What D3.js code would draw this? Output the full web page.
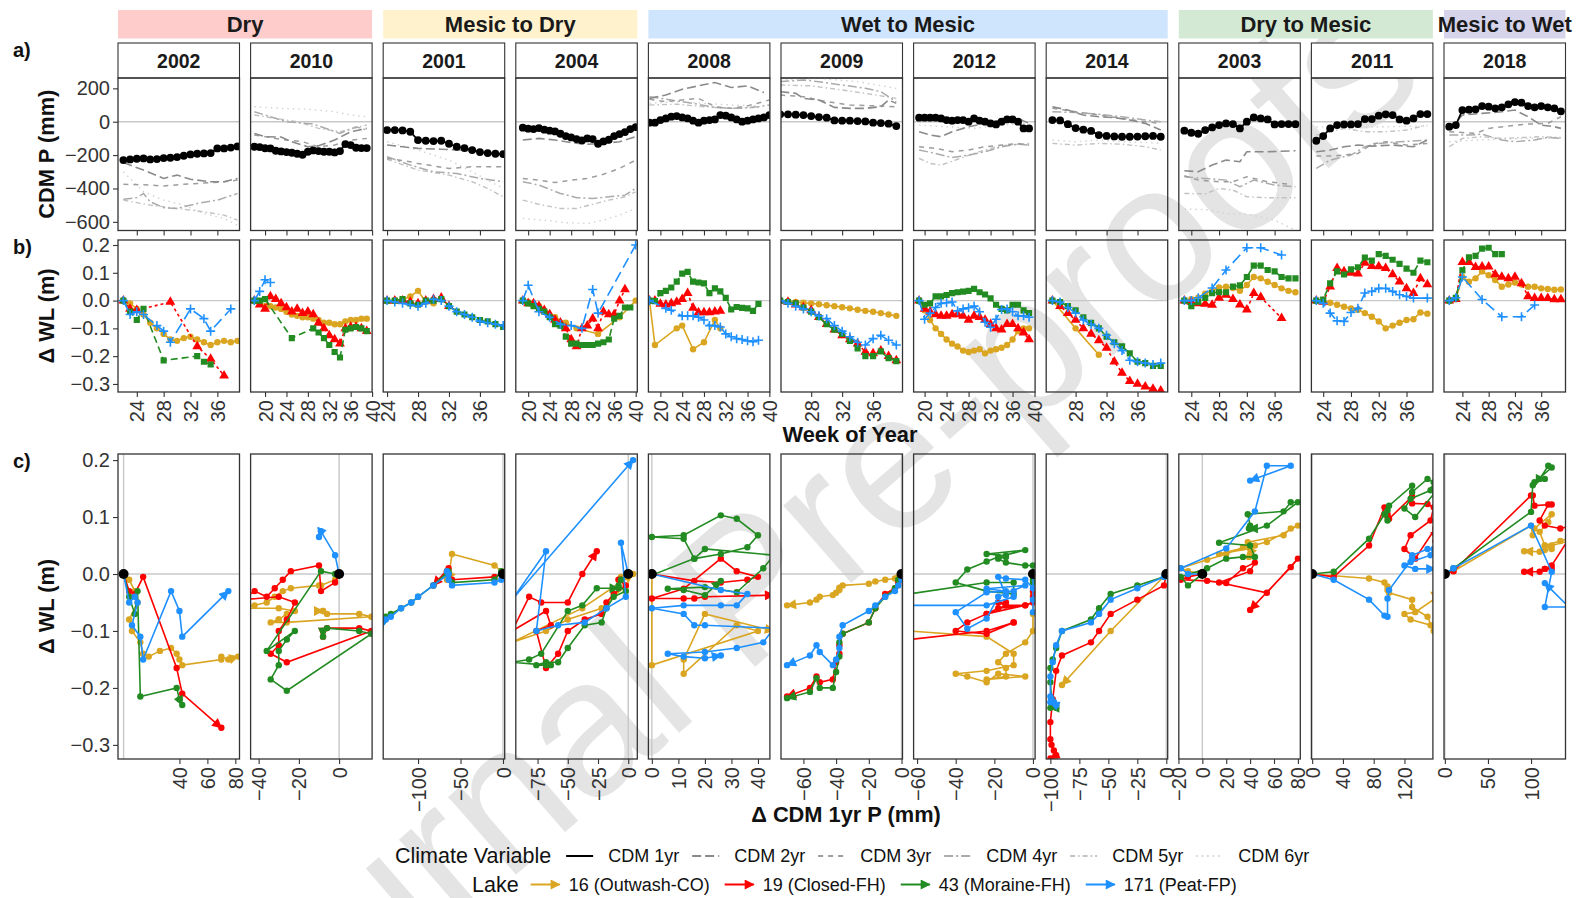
<!DOCTYPE html>
<html>
<head>
<meta charset="utf-8">
<script src="https://cdn.jsdelivr.net/npm/d3@7"></script>
<style>
  body { margin: 0; background: #fff; }
  text { font-family: "Liberation Sans", Arial, sans-serif; }
</style>
</head>
<body>
<svg id="chart" width="1583" height="898"></svg>
<script>
////////////////////////////////////////////////////////////////////
////////////////////////////  Data  ////////////////////////////////
const years = ["2002", "2010", "2001", "2004", "2008", "2009", "2012", "2014", "2003", "2011", "2018"];
const groupLabels = ["Dry", "Mesic to Dry", "Wet to Mesic", "Dry to Mesic", "Mesic to Wet"];
const groupSizes = [2, 2, 4, 2, 1];
const cdmNames = ["CDM 1yr", "CDM 2yr", "CDM 3yr", "CDM 4yr", "CDM 5yr", "CDM 6yr"];
const lakeNames = ["16 (Outwash-CO)", "19 (Closed-FH)", "43 (Moraine-FH)", "171 (Peat-FP)"];

// week axis range and ticks of each column
const weekDomains = [[21.2, 39.3], [17.3, 40], [23.5, 39.2], [17.7, 40.3], [17.8, 40.1], [24.1, 39.8],
  [18, 40.1], [24.2, 39.9], [22.2, 39.7], [22.3, 39.8], [21.2, 39.7]];
const weekTicks = [[24, 28, 32, 36], [20, 24, 28, 32, 36, 40], [24, 28, 32, 36], [20, 24, 28, 32, 36, 40],
  [20, 24, 28, 32, 36, 40], [28, 32, 36], [20, 24, 28, 32, 36, 40], [28, 32, 36], [24, 28, 32, 36],
  [24, 28, 32, 36], [24, 28, 32, 36]];
// delta CDM axis range and ticks of each column (row c)
const dcdmDomains = [[-4, 83], [-44, 16.4], [-141, 2], [-93, 7.5], [-1.3, 44.5], [-73.7, 0.6],
  [-61.8, 1.1], [-103.6, 1.2], [-19.7, 82], [-1, 157], [-1, 140]];
const dcdmTicks = [[40, 60, 80], [-40, -20, 0], [-100, -50, 0], [-75, -50, -25, 0], [0, 10, 20, 30, 40],
  [-60, -40, -20, 0], [-60, -40, -20, 0], [-100, -75, -50, -25, 0], [-20, 0, 20, 40, 60, 80],
  [0, 40, 80, 120], [0, 50, 100]];
const cdmTicks = [200, 0, -200, -400, -600];
const wlTicks = [0.2, 0.1, 0, -0.1, -0.2, -0.3];

// CDM 1yr precipitation (mm): [first week, weekly values]
const cdm1yr = [
  [22, [-230, -226, -222, -220, -226, -224, -218, -216, -212, -204, -196, -192, -190, -188, -160, -160, -155, -148]],
  [18, [-150, -152, -159, -160, -174, -178, -182, -186, -192, -198, -180, -172, -176, -180, -180, -184, -176, -134, -140, -156, -158, -158]],
  [24, [-50, -50, -52, -60, -110, -114, -116, -114, -132, -150, -158, -170, -182, -188, -192, -194]],
  [19, [-36, -42, -44, -38, -48, -54, -58, -72, -86, -94, -104, -112, -100, -104, -132, -118, -108, -86, -74, -62, -44, -32]],
  [18, [-6, -6, 10, 20, 30, 34, 26, 20, 6, -6, 6, 10, 14, 40, 36, 26, 14, 0, 6, 14, 20, 26, 40]],
  [24, [44, 44, 42, 40, 34, 28, 24, 8, 6, 6, 4, 2, -6, -8, -12, -26]],
  [19, [24, 24, 24, 24, 20, 10, 6, 10, 10, 0, 20, 6, 0, -10, -16, 0, 14, 14, 0, -40, -40]],
  [25, [10, 8, -15, -38, -48, -55, -80, -85, -88, -90, -90, -89, -87, -85, -90]],
  [23, [-54, -66, -72, -50, -34, -20, -10, -14, -40, 0, 26, 20, 14, -16, -14, -14, -15]],
  [23, [-114, -86, -40, -20, -16, -16, -14, 16, 16, 36, 44, 40, 14, 6, 20, 46, 46]],
  [22, [-30, -20, 70, 72, 74, 94, 90, 80, 86, 104, 118, 114, 94, 86, 94, 86, 80, 62]]
];

// longer CDM windows (mm): [week, value] pairs
const cdm2yr = [
  [[22, -245], [25, -290], [28, -340], [30, -320], [32, -345], [35, -360], [37, -360], [39, -340]],
  [[18, -70], [20, -90], [23, -92], [25, -120], [28, -150], [30, -144], [33, -110], [36, -60], [39, -40]],
  [[24, -140], [26, -150], [28, -160], [31, -165], [34, -170], [36, -185], [39, -195]],
  [[19, -110], [22, -100], [25, -110], [28, -125], [31, -135], [34, -130], [37, -120], [40, -90]],
  [[18, 140], [21, 160], [24, 195], [27, 215], [30, 235], [33, 205], [36, 215], [39, 175]],
  [[24, 180], [26, 170], [27, 140], [29, 130], [31, 86], [33, 80], [35, 80], [37, 90], [38, 130], [39, 110]],
  [[19, -60], [21, -80], [23, -90], [25, -60], [28, -30], [31, -10], [34, 10], [37, 20], [39, -10]],
  [[25, 90], [27, 70], [29, 40], [31, 30], [33, 25], [35, 10], [37, -10], [39, -50]],
  [[23, -294], [25, -300], [27, -260], [29, -230], [31, -240], [32, -180], [35, -180], [39, -174]],
  [[23, -180], [25, -170], [27, -150], [29, -140], [31, -146], [34, -140], [37, -150], [39, -110]],
  [[22, -50], [24, 40], [27, 50], [30, 60], [32, 70], [34, 30], [36, -20], [38, -30], [39, -40]]
];
const cdm3yr = [
  [[22, -375], [25, -378], [28, -385], [31, -375], [34, -368], [37, -360], [39, -350]],
  [[18, -80], [21, -95], [24, -110], [27, -120], [30, -150], [33, -140], [36, -110], [39, -100]],
  [[24, -220], [27, -240], [28, -250], [32, -280], [35, -270], [39, -270]],
  [[19, -340], [22, -350], [25, -365], [28, -350], [31, -340], [34, -315], [37, -280], [40, -230]],
  [[18, 135], [21, 120], [24, 130], [27, 140], [30, 90], [33, 80], [36, 95], [40, 130]],
  [[24, 160], [27, 150], [30, 120], [33, 100], [36, 95], [39, 90]],
  [[19, -150], [22, -160], [25, -180], [28, -170], [31, -150], [34, -140], [37, -130], [39, -140]],
  [[25, 80], [28, 60], [31, 40], [34, 20], [37, 0], [39, -10]],
  [[23, -324], [25, -350], [28, -360], [30, -360], [32, -330], [35, -360], [38, -374]],
  [[23, -206], [25, -206], [27, -200], [29, -190], [31, -134], [33, -120], [36, -140], [39, -130]],
  [[22, -60], [26, -70], [28, -40], [31, -26], [34, -14], [37, -10], [39, 30]]
];
const cdm4yr = [
  [[22, -465], [24, -455], [25, -430], [26, -480], [28, -515], [30, -520], [33, -490], [36, -470], [39, -430]],
  [[18, 60], [24, 0], [29, -14], [34, -70], [37, -30], [39, -50]],
  [[24, -210], [27, -260], [30, -300], [33, -310], [36, -340], [39, -360]],
  [[19, -360], [22, -380], [26, -430], [29, -455], [32, -460], [35, -450], [38, -440], [40, -400]],
  [[18, 150], [22, 130], [26, 110], [30, 85], [34, 80], [38, 90], [40, 100]],
  [[24, 240], [27, 250], [29, 240], [32, 220], [35, 200], [37, 180], [39, 120]],
  [[19, -170], [22, -190], [25, -215], [28, -200], [31, -180], [34, -150], [37, -135], [39, -140]],
  [[25, 60], [28, 55], [31, 45], [34, 30], [37, 10], [39, 0]],
  [[23, -330], [26, -340], [29, -350], [31, -390], [33, -350], [36, -380], [39, -390]],
  [[23, -280], [25, -230], [28, -200], [30, -150], [32, -130], [35, -120], [39, -110]],
  [[22, -80], [25, -80], [27, -75], [30, -110], [32, -120], [35, -110], [37, -94], [39, -100]]
];
const cdm5yr = [
  [[22, -470], [26, -500], [30, -520], [34, -540], [37, -560], [39, -590]],
  [[18, 40], [22, 20], [26, 0], [30, -40], [34, -60], [39, -20]],
  [[24, -225], [28, -290], [32, -320], [35, -360], [37, -400], [39, -450]],
  [[19, -470], [22, -495], [26, -520], [29, -520], [32, -495], [35, -470], [38, -450], [40, -420]],
  [[18, 100], [23, 105], [28, 90], [33, 80], [38, 85]],
  [[24, 220], [28, 215], [32, 190], [35, 170], [39, 140]],
  [[19, -220], [21, -250], [23, -260], [26, -225], [29, -190], [32, -160], [35, -140], [39, -130]],
  [[25, -130], [28, -140], [31, -130], [34, -135], [37, -150], [39, -170]],
  [[23, -430], [26, -432], [28, -400], [30, -410], [32, -450], [35, -456], [39, -456]],
  [[23, -80], [27, -40], [30, -60], [33, -60], [36, -50], [39, -20]],
  [[22, -150], [24, -100], [27, -90], [30, -100], [33, -95], [36, -90], [39, -95]]
];
const cdm6yr = [
  [[22, -300], [25, -420], [28, -470], [31, -500], [34, -550], [37, -580], [39, -620]],
  [[18, 90], [23, 80], [28, 75], [33, 60], [36, 40], [39, 30]],
  [[24, -120], [28, -170], [32, -230], [35, -300], [39, -400]],
  [[19, -580], [23, -590], [27, -605], [31, -610], [34, -590], [37, -560], [40, -520]],
  [[18, 110], [23, 120], [28, 110], [33, 100], [38, 95]],
  [[24, 250], [29, 260], [34, 240], [39, 200]],
  [[19, -20], [24, -30], [29, -40], [34, -20], [39, -10]],
  [[25, -110], [28, -120], [31, -110], [34, -120], [37, -125], [39, -130]],
  [[23, -524], [26, -526], [29, -550], [32, -555], [36, -590], [39, -650]],
  [[23, -30], [28, -35], [33, -30], [39, -25]],
  [[22, -120], [26, -110], [30, -105], [34, -100], [39, -100]]
];

// change in water level (m) per lake: [first week, weekly values] or [week, value] pairs
const lake16 = [
  [22, [0, -0.01, -0.03, -0.05, -0.08, -0.1, -0.12, -0.14, -0.145, -0.135, -0.13, -0.14, -0.15, -0.16, -0.15, -0.145, -0.15, -0.145]],
  [18, [0, -0.01, -0.02, -0.02, -0.025, -0.03, -0.04, -0.05, -0.055, -0.06, -0.06, -0.065, -0.07, -0.08, -0.08, -0.085, -0.085, -0.075, -0.07, -0.07, -0.065, -0.065]],
  [24, [0, 0, 0.005, 0.015, 0.035, -0.005, -0.01]],
  [[19, 0], [20, -0.005], [21, -0.01], [22, -0.02], [25, -0.06], [27, -0.08], [29, -0.1], [33, -0.12], [37, -0.06], [40, 0]],
  [[18, 0], [19, -0.16], [23, -0.1], [24, -0.09], [26, -0.175], [28, -0.15], [30, -0.07], [31, -0.1]],
  [24, [0, -0.002, -0.005, -0.008, -0.01, -0.013, -0.017, -0.02, -0.024, -0.028, -0.033, -0.037, -0.04, -0.045, -0.05, -0.055]],
  [19, [0, -0.035, -0.07, -0.1, -0.12, -0.14, -0.155, -0.165, -0.18, -0.185, -0.18, -0.175, -0.19, -0.18, -0.175, -0.17, -0.16, -0.14, -0.11, -0.1, -0.1]],
  [[25, 0], [28, -0.1], [31, -0.195]],
  [23, [0, 0.005, 0.01, 0.025, 0.035, 0.047, 0.05, 0.045, 0.035, 0.056, 0.085, 0.08, 0.068, 0.056, 0.044, 0.035, 0.03]],
  [23, [0, -0.003, -0.008, -0.015, -0.022, -0.028, -0.033, -0.045, -0.058, -0.075, -0.1, -0.09, -0.08, -0.07, -0.067, -0.043, -0.047]],
  [22, [0, 0.005, 0.085, 0.068, 0.08, 0.105, 0.091, 0.074, 0.05, 0.058, 0.065, 0.058, 0.05, 0.05, 0.044, 0.042, 0.039, 0.04]]
];
const lake19 = [
  [[22, 0], [23, -0.03], [24, -0.035], [29, -0.005], [33, -0.165], [35, -0.21], [37, -0.27]],
  [18, [0, -0.015, -0.03, 0.015, 0.005, -0.01, -0.025, -0.04, -0.03, -0.045, -0.04, -0.05, -0.08, -0.1, -0.125, -0.14, -0.155, -0.1, -0.095, -0.095, -0.1, -0.11]],
  [24, [0, 0, 0, -0.005, -0.01, 0, 0.005, 0.01, -0.02]],
  [19, [0, -0.01, -0.01, -0.02, -0.035, -0.05, -0.07, -0.08, -0.1, -0.14, -0.165, -0.1, -0.09, -0.065, -0.1, -0.04, -0.05, -0.05, 0, 0.04]],
  [18, [0, 0, -0.012, -0.015, -0.01, -0.005, 0.005, 0.027, -0.026, -0.043, -0.043, -0.043, -0.04, -0.037]],
  [24, [0, -0.005, -0.015, -0.025, -0.035, -0.06, -0.085, -0.105, -0.125, -0.14, -0.155, -0.185, -0.19, -0.18, -0.2, -0.215]],
  [19, [0, -0.03, -0.04, -0.05, -0.055, -0.055, -0.05, -0.05, -0.055, -0.07, -0.055, -0.06, -0.07, -0.085, -0.1, -0.105, -0.085, -0.085, -0.1, -0.115, -0.14]],
  [25, [0, -0.02, -0.045, -0.07, -0.1, -0.12, -0.143, -0.17, -0.22, -0.26, -0.29, -0.3, -0.31, -0.318, -0.324]],
  [[23, 0], [24, -0.005], [25, -0.01], [26, -0.012], [27, -0.016], [28, 0.01], [29, 0.02], [30, 0.005], [31, -0.015], [32, -0.033], [33, 0.027], [34, 0.012], [37, -0.063]],
  [23, [0, -0.005, 0.05, 0.117, 0.105, 0.1, 0.097, 0.136, 0.124, 0.123, 0.117, 0.094, 0.068, 0.044, 0.027, 0.08, 0.058]],
  [22, [0, 0.005, 0.138, 0.138, 0.12, 0.122, 0.122, 0.094, 0.085, 0.08, 0.085, 0.062, 0.015, 0.009, 0.009, 0.009, 0.004, 0.004]]
];
const lake43 = [
  [[22, 0], [23, -0.04], [24, -0.07], [25, -0.03], [28, -0.215], [33, -0.2], [34, -0.22], [35, -0.23]],
  [[18, 0], [19, 0], [20, 0.005], [25, -0.135], [29, -0.1], [30, -0.115], [31, -0.135], [32, -0.16], [33, -0.185], [34, -0.205], [35, -0.105], [36, -0.1], [37, -0.095], [38, -0.1], [39, -0.11]],
  [24, [0, 0, 0.005, -0.01, -0.015, 0, 0, 0.005, -0.02, -0.04, -0.05, -0.06, -0.07, -0.075, -0.085, -0.095]],
  [19, [0, -0.01, -0.02, -0.03, -0.04, -0.06, -0.085, -0.09, -0.13, -0.155, -0.155, -0.16, -0.16, -0.16, -0.155, -0.15, -0.14, -0.065, -0.055, -0.025, -0.025]],
  [18, [0, -0.002, 0.027, 0.035, 0.047, 0.068, 0.097, 0.103, 0.068, 0.065, 0.062, 0.027, 0.044, 0.033, 0.01, -0.032, -0.023, -0.026, -0.028, -0.037, -0.012]],
  [24, [0, -0.005, -0.01, -0.025, -0.04, -0.06, -0.085, -0.105, -0.12, -0.145, -0.172, -0.2, -0.2, -0.183, -0.207, -0.218]],
  [19, [0, -0.015, -0.01, 0.015, 0.015, 0.02, 0.027, 0.03, 0.032, 0.035, 0.042, 0.03, 0.022, 0.008, -0.015, -0.03, -0.035, -0.015, -0.015, -0.035, -0.045]],
  [25, [0, -0.005, -0.02, -0.035, -0.06, -0.08, -0.1, -0.13, -0.15, -0.165, -0.19, -0.22, -0.225, -0.235, -0.235]],
  [23, [0, -0.02, -0.005, 0.01, 0.027, 0.03, 0.03, 0.05, 0.055, 0.085, 0.126, 0.126, 0.11, 0.105, 0.085, 0.08, 0.08]],
  [23, [0, 0.004, 0.062, 0.105, 0.094, 0.112, 0.12, 0.155, 0.144, 0.167, 0.161, 0.147, 0.132, 0.115, 0.1, 0.144, 0.138]],
  [22, [0, 0.01, 0.109, 0.156, 0.161, 0.187, 0.19, 0.167, 0.167]]
];
const lake171 = [
  [[22, 0], [23, -0.05], [24, -0.04], [25, -0.05], [27, -0.09], [28, -0.11], [29, -0.15], [32, -0.03], [34, -0.065], [35, -0.11], [38, -0.03]],
  [18, [0, 0.033, 0.075, 0.065]],
  [24, [0, -0.005, -0.01, -0.015, -0.02, -0.01, 0.005, 0, -0.02, -0.04, -0.05, -0.06, -0.075, -0.08, -0.085, -0.09]],
  [[19, 0], [20, 0.055], [22, -0.04], [24, -0.06], [26, -0.085], [28, -0.09], [30, -0.1], [32, 0.04], [33, -0.045], [40, 0.2]],
  [[18, 0], [21, -0.028], [22, -0.035], [24, -0.055], [25, -0.055], [26, -0.055], [27, -0.06], [28, -0.07], [29, -0.09], [30, -0.09], [31, -0.095], [32, -0.12], [33, -0.13], [34, -0.137], [35, -0.14], [36, -0.145], [37, -0.148], [38, -0.143]],
  [24, [0, -0.01, -0.02, -0.03, -0.04, -0.055, -0.065, -0.09, -0.11, -0.13, -0.15, -0.16, -0.137, -0.125, -0.143, -0.16]],
  [19, [0, -0.067, -0.045, -0.025, -0.01, -0.008, -0.005, -0.037, -0.03, -0.026, -0.02, -0.04, -0.078, -0.096, -0.067, -0.032, -0.03, -0.04, -0.055, -0.055, -0.06]],
  [25, [0, -0.005, -0.025, -0.045, -0.07, -0.085, -0.1, -0.125, -0.155, -0.18, -0.215, -0.22, -0.225, -0.23, -0.225]],
  [[23, 0], [24, 0], [25, 0.01], [27, 0.045], [29, 0.11], [32, 0.19], [34, 0.19], [37, 0.164]],
  [[23, 0], [24, -0.01], [25, -0.045], [26, -0.073], [27, -0.075], [28, -0.043], [29, -0.028], [30, 0.027], [31, 0.033], [32, 0.044], [33, 0.044], [34, 0.033], [35, 0.021], [36, 0.015], [37, 0.009], [39, 0.009]],
  [[22, 0], [23, 0.01], [24, 0.085], [27, 0.004], [30, -0.058], [33, -0.058], [35, -0.016]]
];

////////////////////////////////////////////////////////////////////
////////////////////////////  Styles  //////////////////////////////
const groupFills = ["#ffcccc", "#fff2cc", "#cfe5fd", "#d4e9d3", "#d6d4eb"];
const lakeColors = ["#daa520", "#ff0000", "#228b22", "#1e90ff"];
const lakeDash = [null, "3,3", "7,4", "11,5"];
const cdmStyles = [
  { color: "#000", dash: null, width: 1.8 },
  { color: "#8a8a8a", dash: "9,4", width: 1.6 },
  { color: "#9d9d9d", dash: "5,5", width: 1.5 },
  { color: "#ababab", dash: "9,3,2,3", width: 1.5 },
  { color: "#c2c2c2", dash: "5,3,1.5,3", width: 1.4 },
  { color: "#d2d2d2", dash: "1.5,4", width: 1.4 }
];
const frame = "#333";
const zeroColor = "#c8c8c8";
const tickFont = 20;

////////////////////////////////////////////////////////////////////
////////////////////////////  Layout  //////////////////////////////
const svg = d3.select("#chart");
const colX = (i) => 118 + i * 132.6;
const panelW = 121.5;
const rowA = [78, 230.5], rowB = [240, 392], rowC = [454, 759];

const yA = d3.scaleLinear().domain([-652, 262]).range([rowA[1], rowA[0]]);
const yB = d3.scaleLinear().domain([-0.329, 0.218]).range([rowB[1], rowB[0]]);
const yC = d3.scaleLinear().domain([-0.3248, 0.2107]).range([rowC[1], rowC[0]]);

const series = (d) => {
  if (!d) return [];
  if (Array.isArray(d[0])) return d.map(([w, v]) => ({ w, v }));
  return d[1].map((v, k) => ({ w: d[0] + k, v })).filter((p) => p.v !== null);
};

// watermark
svg.append("text")
  .attr("transform", "translate(1430,80) rotate(-41)")
  .attr("text-anchor", "end")
  .attr("font-size", 195)
  .attr("fill", "#e4e4e4")
  .text("Journal Pre-proofs");

const defs = svg.append("defs");
lakeColors.forEach((c, k) => {
  defs.append("marker")
    .attr("id", "arrow" + k)
    .attr("viewBox", "0 0 10 10")
    .attr("refX", 9).attr("refY", 5)
    .attr("markerWidth", 11).attr("markerHeight", 10)
    .attr("markerUnits", "userSpaceOnUse")
    .attr("orient", "auto")
    .append("path").attr("d", "M0,0L10,5L0,10z").attr("fill", c);
});

const addClip = (id, x, y0, y1) => {
  defs.append("clipPath").attr("id", id)
    .append("rect").attr("x", x).attr("y", y0).attr("width", panelW).attr("height", y1 - y0);
};

const styleTicks = (g, fs) => {
  g.select(".domain").remove();
  g.selectAll(".tick line").attr("stroke", frame).attr("stroke-width", 1.1);
  g.selectAll(".tick text").attr("fill", "#333").attr("font-size", fs)
    .attr("font-family", "'Liberation Sans', Arial, sans-serif");
};
const rotateLabels = (g) => {
  g.selectAll(".tick text")
    .attr("transform", "rotate(-90)")
    .attr("text-anchor", "end")
    .attr("x", -8).attr("y", 0).attr("dy", "0.35em");
};

const marker = (g, k, x, y) => {
  const c = lakeColors[k];
  if (k === 0) g.append("circle").attr("cx", x).attr("cy", y).attr("r", 3.2).attr("fill", c);
  else if (k === 1) g.append("path").attr("d", d3.symbol(d3.symbolTriangle, 42)())
    .attr("transform", `translate(${x},${y})`).attr("fill", c);
  else if (k === 2) g.append("path").attr("d", d3.symbol(d3.symbolSquare, 38)())
    .attr("transform", `translate(${x},${y})`).attr("fill", c);
  else g.append("path").attr("d", "M-4.5,0H4.5M0,-4.5V4.5")
    .attr("transform", `translate(${x},${y})`).attr("stroke", c).attr("stroke-width", 1.6);
};

////////////////////////////////////////////////////////////////////
////////////////////////////  Strips  //////////////////////////////
let gi = 0;
groupLabels.forEach((lab, k) => {
  const x0 = colX(gi), x1 = colX(gi + groupSizes[k] - 1) + panelW;
  svg.append("rect").attr("x", x0).attr("y", 10).attr("width", x1 - x0).attr("height", 28.5)
    .attr("fill", groupFills[k]);
  svg.append("text").attr("x", (x0 + x1) / 2).attr("y", 24.5)
    .attr("text-anchor", "middle").attr("dominant-baseline", "central")
    .attr("font-size", 22).attr("font-weight", "bold").attr("fill", "#1a1a1a").text(lab);
  gi += groupSizes[k];
});

////////////////////////////////////////////////////////////////////
////////////////////////////  Panels  //////////////////////////////
const lakes = [lake16, lake19, lake43, lake171];
const cdmAll = [cdm1yr, cdm2yr, cdm3yr, cdm4yr, cdm5yr, cdm6yr];

years.forEach((yr, i) => {
  const x0 = colX(i), x1 = x0 + panelW;
  const xw = d3.scaleLinear().domain(weekDomains[i]).range([x0, x1]);
  const xc = d3.scaleLinear().domain(dcdmDomains[i]).range([x0, x1]);

  // year strip
  svg.append("rect").attr("x", x0).attr("y", 43).attr("width", panelW).attr("height", rowA[0] - 43)
    .attr("fill", "#fff").attr("stroke", frame).attr("stroke-width", 1.1);
  svg.append("text").attr("x", (x0 + x1) / 2).attr("y", 61)
    .attr("text-anchor", "middle").attr("dominant-baseline", "central")
    .attr("font-size", 19.5).attr("font-weight", "bold").attr("fill", "#1a1a1a").text(yr);

  // ---- row a: CDM precipitation
  addClip("ca" + i, x0, rowA[0], rowA[1]);
  const ga = svg.append("g").attr("clip-path", `url(#ca${i})`);
  ga.append("line").attr("x1", x0).attr("x2", x1).attr("y1", yA(0)).attr("y2", yA(0))
    .attr("stroke", zeroColor).attr("stroke-width", 1.4);
  const lineA = d3.line().x((d) => xw(d.w)).y((d) => yA(d.v));
  for (let k = 5; k >= 0; k--) {
    const s = series(cdmAll[k][i]);
    const st = cdmStyles[k];
    ga.append("path").attr("d", lineA(s)).attr("fill", "none")
      .attr("stroke", st.color).attr("stroke-width", st.width)
      .attr("stroke-dasharray", st.dash);
    if (k === 0) {
      ga.selectAll(null).data(s).enter().append("circle")
        .attr("cx", (d) => xw(d.w)).attr("cy", (d) => yA(d.v)).attr("r", 3.9).attr("fill", "#000");
    }
  }
  svg.append("rect").attr("x", x0).attr("y", rowA[0]).attr("width", panelW).attr("height", rowA[1] - rowA[0])
    .attr("fill", "none").attr("stroke", frame).attr("stroke-width", 1.3);
  const axA = svg.append("g").attr("transform", `translate(0,${rowA[1]})`)
    .call(d3.axisBottom(xw).tickValues(weekTicks[i]).tickSize(5).tickFormat(""));
  styleTicks(axA, tickFont);

  // ---- row b: water level by week
  addClip("cb" + i, x0, rowB[0], rowB[1]);
  const gb = svg.append("g").attr("clip-path", `url(#cb${i})`);
  gb.append("line").attr("x1", x0).attr("x2", x1).attr("y1", yB(0)).attr("y2", yB(0))
    .attr("stroke", zeroColor).attr("stroke-width", 1.4);
  const lineB = d3.line().x((d) => xw(d.w)).y((d) => yB(d.v));
  lakes.forEach((lake, k) => {
    const s = series(lake[i]);
    gb.append("path").attr("d", lineB(s)).attr("fill", "none")
      .attr("stroke", lakeColors[k]).attr("stroke-width", 1.6)
      .attr("stroke-dasharray", lakeDash[k]);
    s.forEach((d) => marker(gb, k, xw(d.w), yB(d.v)));
  });
  svg.append("rect").attr("x", x0).attr("y", rowB[0]).attr("width", panelW).attr("height", rowB[1] - rowB[0])
    .attr("fill", "none").attr("stroke", frame).attr("stroke-width", 1.3);
  const axB = svg.append("g").attr("transform", `translate(0,${rowB[1]})`)
    .call(d3.axisBottom(xw).tickValues(weekTicks[i]).tickSize(5).tickFormat(d3.format("d")));
  styleTicks(axB, tickFont);
  rotateLabels(axB);

  // ---- row c: water level against change in CDM 1yr
  const cdmByWeek = new Map(series(cdm1yr[i]).map((d) => [d.w, d.v]));
  const base = cdm1yr[i][1][0];
  addClip("cc" + i, x0, rowC[0], rowC[1]);
  const gc = svg.append("g").attr("clip-path", `url(#cc${i})`);
  gc.append("line").attr("x1", x0).attr("x2", x1).attr("y1", yC(0)).attr("y2", yC(0))
    .attr("stroke", zeroColor).attr("stroke-width", 1.4);
  gc.append("line").attr("x1", xc(0)).attr("x2", xc(0)).attr("y1", rowC[0]).attr("y2", rowC[1])
    .attr("stroke", zeroColor).attr("stroke-width", 1.4);
  const lineC = d3.line().x((d) => xc(d.x)).y((d) => yC(d.y));
  lakes.forEach((lake, k) => {
    const pts = series(lake[i]).filter((d) => cdmByWeek.has(d.w))
      .map((d) => ({ x: cdmByWeek.get(d.w) - base, y: d.v }));
    gc.append("path").attr("d", lineC(pts)).attr("fill", "none")
      .attr("stroke", lakeColors[k]).attr("stroke-width", 1.6)
      .attr("marker-end", `url(#arrow${k})`);
    gc.selectAll(null).data(pts).enter().append("circle")
      .attr("cx", (d) => xc(d.x)).attr("cy", (d) => yC(d.y)).attr("r", 3.2).attr("fill", lakeColors[k]);
  });
  gc.append("circle").attr("cx", xc(0)).attr("cy", yC(0)).attr("r", 5).attr("fill", "#000");
  svg.append("rect").attr("x", x0).attr("y", rowC[0]).attr("width", panelW).attr("height", rowC[1] - rowC[0])
    .attr("fill", "none").attr("stroke", frame).attr("stroke-width", 1.3);
  const axC = svg.append("g").attr("transform", `translate(0,${rowC[1]})`)
    .call(d3.axisBottom(xc).tickValues(dcdmTicks[i]).tickSize(5).tickFormat(d3.format("d")));
  styleTicks(axC, tickFont);
  rotateLabels(axC);
});

////////////////////////////////////////////////////////////////////
////////////////////////////  Y axes  //////////////////////////////
const left = colX(0);
const yAxA = svg.append("g").attr("transform", `translate(${left},0)`)
  .call(d3.axisLeft(yA).tickValues(cdmTicks).tickSize(5).tickPadding(3).tickFormat(d3.format("d")));
styleTicks(yAxA, tickFont);
const yAxB = svg.append("g").attr("transform", `translate(${left},0)`)
  .call(d3.axisLeft(yB).tickValues(wlTicks).tickSize(5).tickPadding(3).tickFormat(d3.format(".1f")));
styleTicks(yAxB, tickFont);
const yAxC = svg.append("g").attr("transform", `translate(${left},0)`)
  .call(d3.axisLeft(yC).tickValues(wlTicks).tickSize(5).tickPadding(3).tickFormat(d3.format(".1f")));
styleTicks(yAxC, tickFont);

// titles
const title = (txt, x, y, rot) => {
  svg.append("text")
    .attr("transform", `translate(${x},${y})` + (rot ? " rotate(-90)" : ""))
    .attr("text-anchor", "middle").attr("dominant-baseline", "central")
    .attr("font-size", 21.8).attr("font-weight", "bold").attr("fill", "#111").text(txt);
};
title("CDM P (mm)", 46, (rowA[0] + rowA[1]) / 2, true);
title("\u0394 WL (m)", 46, (rowB[0] + rowB[1]) / 2, true);
title("\u0394 WL (m)", 46, (rowC[0] + rowC[1]) / 2, true);
title("Week of Year", 850, 434, false);
title("\u0394 CDM 1yr P (mm)", 846, 814, false);

[["a)", 50], ["b)", 247], ["c)", 461]].forEach(([t, y]) => {
  svg.append("text").attr("x", 13).attr("y", y).attr("dominant-baseline", "central")
    .attr("font-size", 20).attr("font-weight", "bold").attr("fill", "#111").text(t);
});

////////////////////////////////////////////////////////////////////
////////////////////////////  Legend  //////////////////////////////
const legText = (x, y, txt, fs) => svg.append("text").attr("x", x).attr("y", y)
  .attr("dominant-baseline", "central").attr("font-size", fs).attr("fill", "#111").text(txt);

let lx = 395;
const ly1 = 856, ly2 = 884.5;
let t = legText(lx, ly1, "Climate Variable", 21.5);
lx += t.node().getComputedTextLength() + 15;
cdmNames.forEach((name, k) => {
  const st = cdmStyles[k];
  svg.append("line").attr("x1", lx).attr("x2", lx + 27).attr("y1", ly1).attr("y2", ly1)
    .attr("stroke", st.color).attr("stroke-width", k === 0 ? 2 : 1.8).attr("stroke-dasharray", st.dash);
  lx += 27 + 15;
  t = legText(lx, ly1, name, 18);
  lx += t.node().getComputedTextLength() + 13;
});

lx = 472;
t = legText(lx, ly2, "Lake", 21.5);
lx += t.node().getComputedTextLength() + 12;
lakeNames.forEach((name, k) => {
  svg.append("line").attr("x1", lx).attr("x2", lx + 29).attr("y1", ly2).attr("y2", ly2)
    .attr("stroke", lakeColors[k]).attr("stroke-width", 2).attr("marker-end", `url(#arrow${k})`);
  lx += 29 + 9;
  t = legText(lx, ly2, name, 18);
  lx += t.node().getComputedTextLength() + 15;
});
</script>
</body>
</html>
